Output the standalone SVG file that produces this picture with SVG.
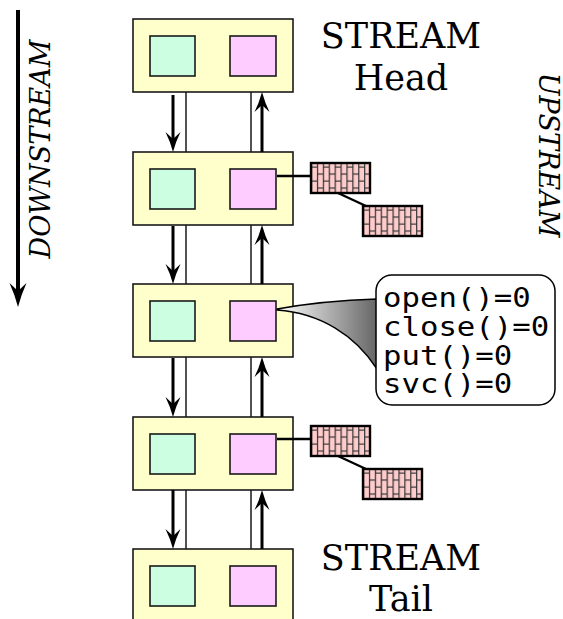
<svg xmlns="http://www.w3.org/2000/svg" width="563" height="619" viewBox="0 0 563 619">
  <style>
    .module { fill: #ffffcc; stroke: #1a1a1a; stroke-width: 1.6; }
    .wq { fill: #ccffe2; stroke: #1a1a1a; stroke-width: 1.6; }
    .rq { fill: #ffccff; stroke: #1a1a1a; stroke-width: 1.6; }
    .rail { stroke: #1a1a1a; stroke-width: 1.5; fill: none; }
    .flow { stroke: #000; stroke-width: 3; fill: none; }
    .link { stroke: #000; stroke-width: 2.4; fill: none; }
    .msg { fill: url(#bricks); stroke: #000; stroke-width: 2.4; }
    .title { font-family: "DejaVu Serif", serif; font-size: 35px; fill: #000; text-anchor: middle; }
    .dir { font-family: "DejaVu Serif", serif; font-style: italic; font-size: 27px; fill: #000; text-anchor: middle; }
    .code { font-family: "DejaVu Sans Mono", monospace; font-size: 26px; fill: #000; }
  </style>
  <defs>
    <marker id="barb" markerUnits="userSpaceOnUse" viewBox="0 0 20 16" refX="7" refY="8" markerWidth="20" markerHeight="16" orient="auto">
      <path d="M20,8 Q9,5 0,0.5 L7,8 L0,15.5 Q9,11 20,8 Z" fill="#000"/>
    </marker>
    <marker id="bigbarb" markerUnits="userSpaceOnUse" viewBox="0 0 24 18" refX="8" refY="9" markerWidth="24" markerHeight="18" orient="auto">
      <path d="M24,9 Q11,5.5 0,0.5 L8,9 L0,17.5 Q11,12.5 24,9 Z" fill="#000"/>
    </marker>
    <!-- vertical running bond: columns of upright bricks, alternate columns staggered -->
    <pattern id="bricks" patternUnits="objectBoundingBox" x="0" y="0" width="0.2" height="0.4667">
      <rect x="0" y="0" width="11.8" height="14" fill="#ffcccc"/>
      <path d="M0.6,0 V14 M6.5,0 V14 M0,4 H5.9 M5.9,11 H11.8" stroke="#333" stroke-width="1.2" fill="none"/>
    </pattern>
    <linearGradient id="shade" x1="277" y1="0" x2="377" y2="0" gradientUnits="userSpaceOnUse">
      <stop offset="0" stop-color="#ffffff"/>
      <stop offset="1" stop-color="#666666"/>
    </linearGradient>
  </defs>

  <!-- direction labels -->
  <line x1="18" y1="10" x2="18" y2="291" stroke="#000" stroke-width="4" marker-end="url(#bigbarb)"/>
  <text class="dir" transform="translate(50,149) rotate(-90)">DOWNSTREAM</text>
  <text class="dir" transform="translate(539,155) rotate(90)">UPSTREAM</text>

  <!-- stream modules -->
  <g id="head">
    <rect class="module" x="133" y="19" width="160" height="73"/>
    <rect class="wq" x="150" y="36" width="45" height="40"/>
    <rect class="rq" x="230" y="36" width="46" height="40"/>
  </g>
  <g id="module1">
    <rect class="module" x="133" y="152" width="160" height="73"/>
    <rect class="wq" x="150" y="169" width="45" height="40"/>
    <rect class="rq" x="230" y="169" width="46" height="40"/>
  </g>
  <g id="module2">
    <rect class="module" x="133" y="284" width="160" height="73"/>
    <rect class="wq" x="150" y="301" width="45" height="40"/>
    <rect class="rq" x="230" y="301" width="46" height="40"/>
  </g>
  <g id="module3">
    <rect class="module" x="133" y="417" width="160" height="73"/>
    <rect class="wq" x="150" y="434" width="45" height="40"/>
    <rect class="rq" x="230" y="434" width="46" height="40"/>
  </g>
  <g id="tail">
    <rect class="module" x="133" y="549" width="160" height="73"/>
    <rect class="wq" x="150" y="566" width="45" height="40"/>
    <rect class="rq" x="230" y="566" width="46" height="40"/>
  </g>

  <!-- connectors: queue rails, message flow, message links, callout pointer -->
  <g id="connectors">
    <path class="rail" d="M186,92 V152 M251,92 V152 M186,225 V284 M251,225 V284 M186,357 V417 M251,357 V417 M186,490 V549 M251,490 V549"/>
    <line class="flow" x1="173" y1="95" x2="173" y2="139" marker-end="url(#barb)"/>
    <line class="flow" x1="262" y1="152" x2="262" y2="105" marker-end="url(#barb)"/>
    <line class="flow" x1="173" y1="226" x2="173" y2="271" marker-end="url(#barb)"/>
    <line class="flow" x1="262" y1="284" x2="262" y2="238" marker-end="url(#barb)"/>
    <line class="flow" x1="173" y1="358" x2="173" y2="404" marker-end="url(#barb)"/>
    <line class="flow" x1="262" y1="417" x2="262" y2="370" marker-end="url(#barb)"/>
    <line class="flow" x1="173" y1="490" x2="173" y2="536" marker-end="url(#barb)"/>
    <line class="flow" x1="262" y1="549" x2="262" y2="503" marker-end="url(#barb)"/>
    <line class="link" x1="277" y1="176" x2="311" y2="176"/>
    <line class="link" x1="338" y1="193" x2="366" y2="206"/>
    <line class="link" x1="277" y1="439" x2="311" y2="439"/>
    <line class="link" x1="338" y1="456" x2="366" y2="469"/>
    <path d="M277,309 C310,303 345,300 377,299 L377,369 C355,335 320,313 277,310 Z" fill="url(#shade)" stroke="#000" stroke-width="1.4" stroke-linejoin="round"/>
  </g>

  <!-- queued messages -->
  <g id="msg1a"><rect class="msg" x="311" y="163" width="59" height="30"/></g>
  <g id="msg1b"><rect class="msg" x="363" y="206" width="59" height="30"/></g>
  <g id="msg3a"><rect class="msg" x="311" y="426" width="59" height="30"/></g>
  <g id="msg3b"><rect class="msg" x="363" y="469" width="59" height="30"/></g>

  <!-- method callout -->
  <g id="callout">
    <rect x="376" y="275" width="179" height="130" rx="16" ry="16" fill="#fff" stroke="#000" stroke-width="1.5"/>
    <text class="code" transform="translate(383,307) scale(1.18,1)">open()=0</text>
    <text class="code" transform="translate(383,336) scale(1.18,1)">close()=0</text>
    <text class="code" transform="translate(383,365) scale(1.18,1)">put()=0</text>
    <text class="code" transform="translate(383,393) scale(1.18,1)">svc()=0</text>
  </g>

  <!-- stream end labels -->
  <text class="title" x="401" y="48">STREAM</text>
  <text class="title" x="401" y="90">Head</text>
  <text class="title" x="401" y="570">STREAM</text>
  <text class="title" x="401" y="611">Tail</text>
</svg>
